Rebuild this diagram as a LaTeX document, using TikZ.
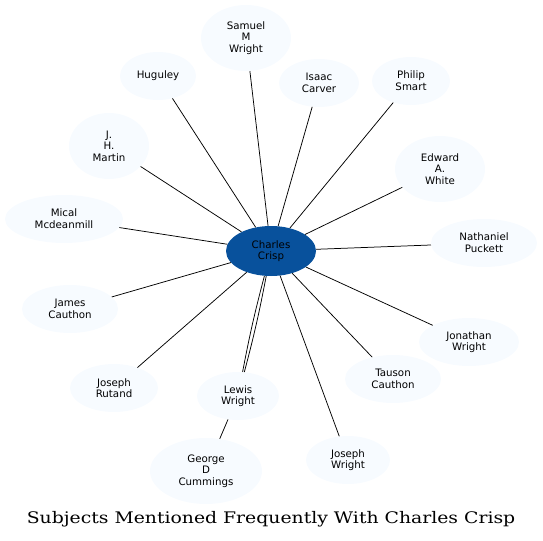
\documentclass[tikz,border=0pt]{standalone}
\usepackage{graphicx}
\usepackage{fontspec}
\newfontfamily\dejavu{DejaVu Sans}
\newfontfamily\dejavuserif{DejaVu Serif}
\usetikzlibrary{shapes.geometric}
\definecolor{leaf}{HTML}{F7FBFF}
\definecolor{hub}{HTML}{08519C}
\tikzset{
  person/.style={ellipse, fill=leaf, draw=none, inner sep=0pt, align=center,
    font=\dejavu\fontsize{10.3}{11.7}\selectfont},
  hubnode/.style={person, fill=hub},
  link/.style={draw=black, line width=0.75pt}
}
\begin{document}
\begin{tikzpicture}[x=1bp,y=-1bp]
\useasboundingbox (0,0) rectangle (543,541);
\node[hubnode, minimum width=90bp, minimum height=50bp] (cc) at (271,251) {Charles\\Crisp};
\node[person, minimum width=90bp, minimum height=66bp] (smw) at (246,38) {Samuel\\M\\Wright};
\node[person, minimum width=76bp, minimum height=48bp] (hug) at (158,76) {Huguley};
\node[person, minimum width=80bp, minimum height=48bp] (ic) at (319,83) {Isaac\\Carver};
\node[person, minimum width=78bp, minimum height=48bp] (ps) at (411,81) {Philip\\Smart};
\node[person, minimum width=80bp, minimum height=66bp] (jhm) at (109,146) {J.\\H.\\Martin};
\node[person, minimum width=90bp, minimum height=66bp] (eaw) at (440,169) {Edward\\A.\\White};
\node[person, minimum width=118bp, minimum height=48bp] (mm) at (64,219) {Mical\\Mcdeanmill};
\node[person, minimum width=106bp, minimum height=48bp] (np) at (484,243) {Nathaniel\\Puckett};
\node[person, minimum width=96bp, minimum height=48bp] (jc) at (70,309) {James\\Cauthon};
\node[person, minimum width=100bp, minimum height=48bp] (jw) at (469,342) {Jonathan\\Wright};
\node[person, minimum width=96bp, minimum height=48bp] (tc) at (393,379) {Tauson\\Cauthon};
\node[person, minimum width=88bp, minimum height=48bp] (jr) at (114,388) {Joseph\\Rutand};
\node[person, minimum width=82bp, minimum height=48bp] (lw) at (238,396) {Lewis\\Wright};
\node[person, minimum width=112bp, minimum height=66bp] (gdc) at (206,471) {George\\D\\Cummings};
\node[person, minimum width=84bp, minimum height=48bp] (jow) at (348,460) {Joseph\\Wright};
\node[font=\dejavuserif\fontsize{16}{18}\selectfont] (title) at (271,519) {\scalebox{1.18}[1]{Subjects Mentioned Frequently With Charles Crisp}};
\foreach \t in {smw,hug,ic,ps,jhm,eaw,mm,np,jc,jw,tc,jr,jow}
  \draw[link] (cc) -- (\t);
\draw[link] (cc) to[bend right=2] (lw);
\draw[link] (cc) to[bend left=2] (lw);
\draw[link] (lw) -- (gdc);
\end{tikzpicture}
\end{document}
